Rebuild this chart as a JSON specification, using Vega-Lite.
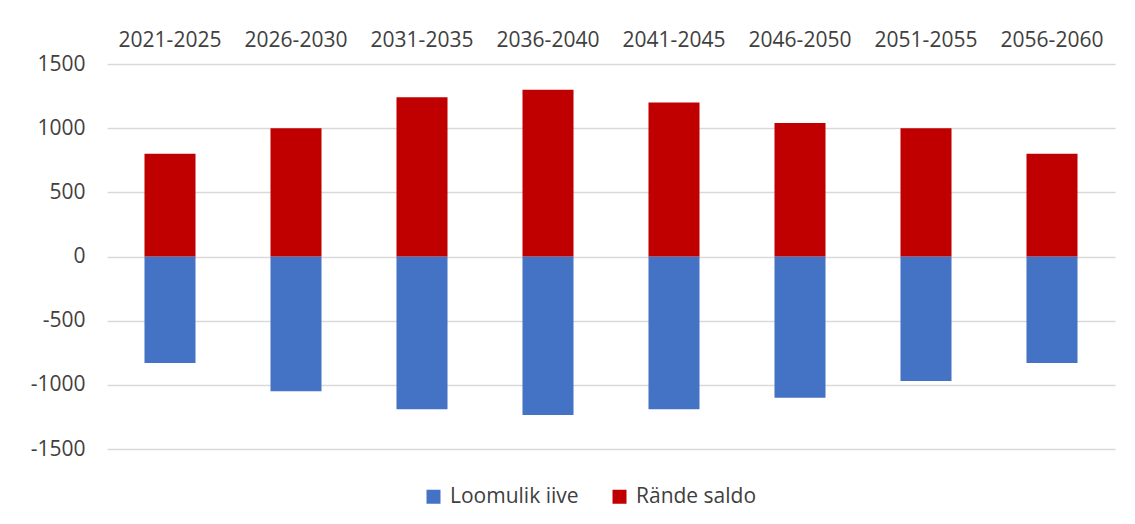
{
  "$schema": "https://vega.github.io/schema/vega-lite/v6.json",
  "autosize": {"type": "none"},
  "width": 1008,
  "height": 385,
  "padding": {"left": 107, "top": 64, "right": 20, "bottom": 75},
  "background": "white",
  "config": {
    "view": {"stroke": null},
    "font": "Open Sans"
  },
  "data": {
    "values": [
      {"period": "2021-2025", "series": "Loomulik iive", "value": -830},
      {"period": "2026-2030", "series": "Loomulik iive", "value": -1050},
      {"period": "2031-2035", "series": "Loomulik iive", "value": -1190},
      {"period": "2036-2040", "series": "Loomulik iive", "value": -1235},
      {"period": "2041-2045", "series": "Loomulik iive", "value": -1190},
      {"period": "2046-2050", "series": "Loomulik iive", "value": -1100},
      {"period": "2051-2055", "series": "Loomulik iive", "value": -970},
      {"period": "2056-2060", "series": "Loomulik iive", "value": -830},
      {"period": "2021-2025", "series": "Rände saldo", "value": 800},
      {"period": "2026-2030", "series": "Rände saldo", "value": 1000},
      {"period": "2031-2035", "series": "Rände saldo", "value": 1240},
      {"period": "2036-2040", "series": "Rände saldo", "value": 1300},
      {"period": "2041-2045", "series": "Rände saldo", "value": 1200},
      {"period": "2046-2050", "series": "Rände saldo", "value": 1040},
      {"period": "2051-2055", "series": "Rände saldo", "value": 1000},
      {"period": "2056-2060", "series": "Rände saldo", "value": 800}
    ]
  },
  "mark": {"type": "bar"},
  "encoding": {
    "x": {
      "field": "period",
      "type": "nominal",
      "sort": null,
      "title": null,
      "scale": {"paddingInner": 0.595, "paddingOuter": 0.2975},
      "axis": {
        "orient": "top",
        "labelAngle": 0,
        "ticks": false,
        "domain": false,
        "labelFontSize": 21,
        "labelColor": "#404040",
        "labelPadding": 14,
        "labelFont": "Open Sans"
      }
    },
    "y": {
      "field": "value",
      "type": "quantitative",
      "stack": null,
      "title": null,
      "scale": {"domain": [-1500, 1500], "nice": false},
      "axis": {
        "values": [-1500, -1000, -500, 0, 500, 1000, 1500],
        "labelExpr": "'' + datum.value",
        "ticks": false,
        "domain": false,
        "grid": true,
        "gridColor": "#D9D9D9",
        "gridWidth": 1.5,
        "labelFontSize": 21,
        "labelColor": "#404040",
        "labelPadding": 22,
        "labelFont": "Open Sans"
      }
    },
    "color": {
      "field": "series",
      "type": "nominal",
      "title": null,
      "scale": {"domain": ["Loomulik iive", "Rände saldo"], "range": ["#4472C4", "#C00000"]},
      "legend": {
        "orient": "none",
        "legendX": 316,
        "legendY": 422,
        "direction": "horizontal",
        "symbolType": "square",
        "symbolSize": 196,
        "symbolStrokeWidth": 0,
        "labelFontSize": 21,
        "labelColor": "#404040",
        "labelFont": "Open Sans",
        "labelOffset": 6,
        "columnPadding": 30
      }
    }
  }
}
